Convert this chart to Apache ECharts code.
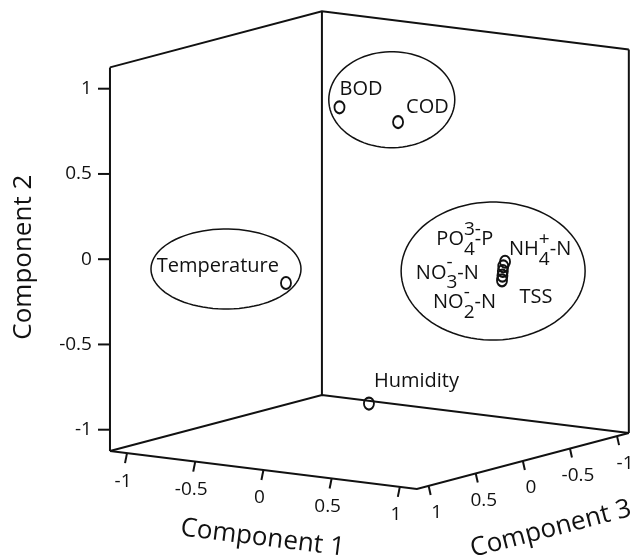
<!DOCTYPE html>
<html>
<head>
<meta charset="utf-8">
<script src="https://cdn.jsdelivr.net/npm/echarts@6/dist/echarts.min.js"></script>
<style>
html,body{margin:0;padding:0;background:#fff}
#main{width:633px;height:558px}
</style>
</head>
<body>
<div id="main"></div>
<script>
// component loadings
var names = ['BOD', 'COD', 'Temperature', 'Humidity', 'PO4-P', 'NH4-N', 'NO3-N', 'TSS', 'NO2-N'];
var comp1 = [0.05, 0.30, 0.01, -0.10, 0.94, 0.96, 0.93, 0.92, 0.91];
var comp2 = [0.90, 0.80, -0.06, -0.93, -0.01, 0.02, -0.04, -0.07, -0.10];
var comp3 = [0.39, 0.13, 0.90, -0.14, -0.06, -0.05, -0.07, -0.08, -0.09];

var tickValues = [-1, -0.5, 0, 0.5, 1];
var tickLabels = ['-1', '-0.5', '0', '0.5', '1'];
var axisRange = [-1.125, 1.125];
var axisTitles = ['Component 1', 'Component 2', 'Component 3'];
var groups = [['BOD', 'COD'], ['Temperature'], ['PO4-P', 'NH4-N', 'NO3-N', 'TSS', 'NO2-N']];

// label text pieces, {sub, sup} pieces are stacked
var labelParts = {
  'BOD': ['BOD'],
  'COD': ['COD'],
  'Temperature': ['Temperature'],
  'Humidity': ['Humidity'],
  'PO4-P': ['PO', {sup: '3-', sub: '4'}, '-P'],
  'NH4-N': ['NH', {sup: '+', sub: '4'}, '-N'],
  'NO3-N': ['NO', {sup: '-', sub: '3'}, '-N'],
  'TSS': ['TSS'],
  'NO2-N': ['NO', {sup: '-', sub: '2'}, '-N']
};

// ---- layout / style ----
var FONT = '"Open Sans", "DejaVu Sans", sans-serif';
var INK = '#111';
// projection of the 3d box onto the page (pixels per unit)
var ORIGIN = [369.4, 250.2];
var EX = [136.4, 16.9], EY = [0, -170.5], EZ = [-94.2, 24.9];

var labelPos = {
  'BOD': [0, -18, 'left'],
  'COD': [8, -15, 'left'],
  'Temperature': [-7, -17, 'right'],
  'Humidity': [5, -22, 'left'],
  'PO4-P': [-10, -27, 'right'],
  'NH4-N': [4, -12, 'left'],
  'NO3-N': [-24, 2, 'right'],
  'TSS': [17, 22, 'left'],
  'NO2-N': [-6, 22, 'right']
};
var groupShapes = [
  {dx: 23, dy: -15, rx: 63, ry: 48},
  {dx: -60, dy: -14, rx: 75, ry: 40},
  {dx: -10, dy: 0, rx: 92, ry: 69}
];
// per axis: tick vector, label offset, label align
var tickStyle = [
  {tick: [-2, 10], label: [-4, 28], align: 'center'},
  {tick: [-12, 0], label: [-18, 0], align: 'right'},
  {tick: [2, 9], label: [8, 27], align: 'center'}
];
var titleStyle = [
  {off: [-1, 68], rot: -7.1},
  {off: [-86, -2], rot: 90},
  {off: [28, 68], rot: 14.6}
];

function project(x, y, z) {
  return [ORIGIN[0] + x * EX[0] + y * EY[0] + z * EZ[0],
          ORIGIN[1] + x * EX[1] + y * EY[1] + z * EZ[1]];
}
function lim(s) { return axisRange[s]; }
function corner(sx, sy, sz) { return project(lim(sx), lim(sy), lim(sz)); }

// point on axis a for value v (axis lines along the box edges)
function axisPoint(a, v) {
  if (a === 0) return project(v, lim(0), lim(1));
  if (a === 1) return project(lim(0), v, lim(1));
  return project(lim(1), lim(0), v);
}

var ctx = document.createElement('canvas').getContext('2d');
function textWidth(s, size) {
  ctx.font = size + 'px ' + FONT;
  return ctx.measureText(s).width;
}

var pts = names.map(function (n, i) {
  return project(comp1[i], comp2[i], comp3[i]);
});

// box edges
var edges = [
  [corner(0, 0, 1), corner(0, 1, 1)],
  [corner(0, 0, 0), corner(0, 1, 0)],
  [corner(1, 0, 0), corner(1, 1, 0)],
  [corner(0, 1, 1), corner(0, 1, 0), corner(1, 1, 0)],
  [corner(0, 0, 1), corner(0, 0, 0), corner(1, 0, 0)],
  [corner(0, 0, 1), corner(1, 0, 1), corner(1, 0, 0)]
];

var tickData = [];
[0, 1, 2].forEach(function (a) {
  tickValues.forEach(function (v, i) {
    var p = axisPoint(a, v);
    tickData.push([p[0], p[1], a, i]);
  });
});

var titleData = [0, 1, 2].map(function (a) {
  var p = axisPoint(a, 0);
  return [p[0], p[1], a];
});

var groupData = groups.map(function (g, k) {
  var sx = 0, sy = 0;
  g.forEach(function (n) {
    var p = pts[names.indexOf(n)];
    sx += p[0]; sy += p[1];
  });
  return [sx / g.length, sy / g.length, k];
});

var pointData = pts.map(function (p, i) { return [p[0], p[1], i]; });

function renderLabel(params, api) {
  var p = api.coord([api.value(0), api.value(1)]);
  var name = names[api.value(2)];
  var lp = labelPos[name];
  var parts = labelParts[name];
  var size = 20, small = 19;
  var total = 0;
  parts.forEach(function (s) {
    total += typeof s === 'string' ? textWidth(s, size) : textWidth(s.sub, small);
  });
  var x = p[0] + lp[0] - (lp[2] === 'right' ? total : 0);
  var y = p[1] + lp[1];
  var kids = [];
  parts.forEach(function (s) {
    if (typeof s === 'string') {
      kids.push({type: 'text', x: x, y: y, style: {text: s, font: size + 'px ' + FONT, fill: INK, align: 'left', verticalAlign: 'middle'}});
      x += textWidth(s, size);
    } else {
      kids.push({type: 'text', x: x, y: y - 10, style: {text: s.sup, font: small + 'px ' + FONT, fill: INK, align: 'left', verticalAlign: 'middle'}});
      kids.push({type: 'text', x: x, y: y + 10, style: {text: s.sub, font: small + 'px ' + FONT, fill: INK, align: 'left', verticalAlign: 'middle'}});
      x += textWidth(s.sub, small);
    }
  });
  return {type: 'group', children: kids};
}

function renderTick(params, api) {
  var p = api.coord([api.value(0), api.value(1)]);
  var st = tickStyle[api.value(2)];
  return {type: 'group', children: [
    {type: 'line', shape: {x1: p[0], y1: p[1], x2: p[0] + st.tick[0], y2: p[1] + st.tick[1]},
     style: {stroke: INK, lineWidth: 2}},
    {type: 'text', x: p[0] + st.label[0], y: p[1] + st.label[1],
     style: {text: tickLabels[api.value(3)], font: '19px ' + FONT, fill: INK, align: st.align, verticalAlign: 'middle'}}
  ]};
}

function renderTitle(params, api) {
  var p = api.coord([api.value(0), api.value(1)]);
  var a = api.value(2);
  var st = titleStyle[a];
  return {type: 'text', x: p[0] + st.off[0], y: p[1] + st.off[1], rotation: st.rot * Math.PI / 180,
    style: {text: axisTitles[a], font: '26px ' + FONT, fill: INK, align: 'center', verticalAlign: 'middle'}};
}

function renderGroup(params, api) {
  var p = api.coord([api.value(0), api.value(1)]);
  var g = groupShapes[api.value(2)];
  var cx = p[0] + g.dx, cy = p[1] + g.dy;
  var ring = [];
  for (var k = 0; k < 90; k++) {
    var t = k / 90 * Math.PI * 2;
    ring.push([cx + g.rx * Math.cos(t), cy + g.ry * Math.sin(t)]);
  }
  return {type: 'polygon', shape: {points: ring}, style: {fill: 'none', stroke: INK, lineWidth: 1.5}};
}

var chart = echarts.init(document.getElementById('main'));
chart.setOption({
  animation: false,
  backgroundColor: '#fff',
  grid: {left: 0, top: 0, right: 0, bottom: 0},
  xAxis: {type: 'value', min: 0, max: 633, show: false},
  yAxis: {type: 'value', min: 0, max: 558, inverse: true, show: false},
  series: [
    {
      type: 'lines', coordinateSystem: 'cartesian2d', polyline: true, silent: true,
      lineStyle: {color: INK, width: 2, opacity: 1},
      data: edges.map(function (e) { return {coords: e}; })
    },
    {type: 'custom', renderItem: renderTick, data: tickData, silent: true},
    {type: 'custom', renderItem: renderTitle, data: titleData, silent: true},
    {type: 'custom', renderItem: renderGroup, data: groupData, silent: true},
    {
      type: 'scatter', data: pointData, symbol: 'circle', symbolSize: [10, 12],
      itemStyle: {color: 'rgba(0,0,0,0)', borderColor: INK, borderWidth: 2, opacity: 1}
    },
    {type: 'custom', renderItem: renderLabel, data: pointData, silent: true}
  ]
});
</script>
</body>
</html>
